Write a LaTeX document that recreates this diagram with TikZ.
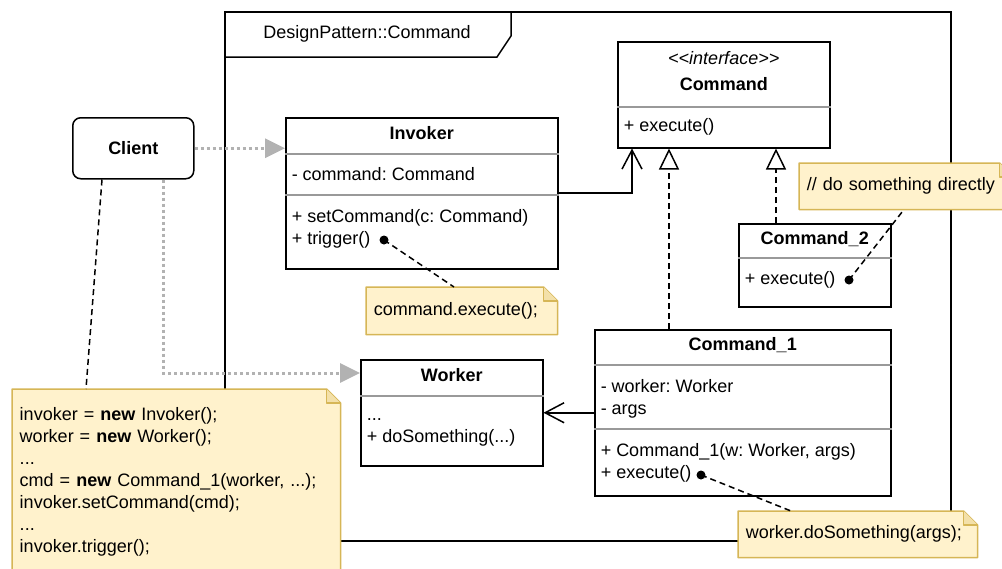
\documentclass[tikz,border=0pt]{standalone}
\usepackage{fontspec}
\setmainfont{Liberation Sans}
\usepackage{tikz}
\usetikzlibrary{
	positioning,
	arrows.meta
}
\definecolor{notefill}{HTML}{FFF2CC}
\definecolor{notedraw}{HTML}{D6B656}
\colorlet{foldfill}{notedraw!30!notefill}
\colorlet{sepgray}{black!40}
\colorlet{usegray}{black!30}
\tikzset{
	class/.style={
		draw, fill=white, anchor=north west, inner sep=0pt
	},
	clsname/.style={
		font=\bfseries, inner sep=0pt
	},
	members/.style={
		anchor=west, align=left, inner sep=0pt
	},
	separator/.style={
		draw=sepgray
	},
	usage/.style={
		usegray, line width=3pt, dash pattern=on 3pt off 3pt,
		-{Triangle[length=20pt,width=19pt,fill=usegray]}
	},
	assoc/.style={
		-{Straight Barb[length=19pt,width=20pt]}
	},
	realize/.style={
		dash pattern=on 6pt off 4pt,
		-{Triangle[open,length=21pt,width=20pt]}
	},
	notelink/.style={
		dash pattern=on 6pt off 4pt
	},
	note/.style={
		anchor=north west, align=left,
		inner xsep=7pt, inner ysep=0pt,
		append after command={\pgfextra{
			\draw[notedraw, fill=notefill, line join=round] (\tikzlastnode.north west) -- ([xshift=-14pt]\tikzlastnode.north east) -- ([yshift=-14pt]\tikzlastnode.north east) -- (\tikzlastnode.south east) -- (\tikzlastnode.south west) -- cycle;
			\draw[notedraw, fill=foldfill, line join=round] ([xshift=-14pt]\tikzlastnode.north east) -- ([xshift=-14pt,yshift=-14pt]\tikzlastnode.north east) -- ([yshift=-14pt]\tikzlastnode.north east);
		}}
	}
}

\begin{document}
\frenchspacing
\fontsize{18}{22}\selectfont
\begin{tikzpicture}[x=1pt, y=-1pt, line width=1.5pt]
	\useasboundingbox (0,0) rectangle (1002,568);
	\clip (0,0) rectangle (1002,568);

	\node[draw, anchor=north west, inner sep=0pt, minimum width=726pt, minimum height=529pt] (frame) at (224,11) {};
	\draw (frame.north west) ++(0,46) -- ++(273,0) -- ++(14,-21) -- ++(0,-25);
	\node (frametitle) at (367,34) {DesignPattern::Command};

	\node[class, font=\bfseries, rounded corners=8pt, minimum width=121pt, minimum height=61pt] (client) at (72,117) {Client};

	\node[class, minimum width=272pt, minimum height=151pt] (invoker) at (285,117) {};
	\node[clsname] (invokername) at ([yshift=-16pt]invoker.north) {Invoker};
	\draw[separator] ([yshift=-37pt]invoker.north west) -- ([yshift=-37pt]invoker.north east);
	\node[members] (invokerattr) at ([xshift=6pt,yshift=-57pt]invoker.north west) {- command: Command};
	\draw[separator] ([yshift=-78pt]invoker.north west) -- ([yshift=-78pt]invoker.north east);
	\node[members] (invokerops) at ([xshift=6pt,yshift=-112pt]invoker.north west) {+ setCommand(c: Command)\\+ trigger()};

	\node[class, minimum width=212pt, minimum height=106pt] (command) at (617,41) {};
	\node[inner sep=0pt, font=\itshape] (commandstereo) at ([yshift=-17pt]command.north) {<\kern0pt<interface>\kern0pt>};
	\node[clsname] (commandname) at ([yshift=-43pt]command.north) {Command};
	\draw[separator] ([yshift=-66pt]command.north west) -- ([yshift=-66pt]command.north east);
	\node[members] (commandops) at ([xshift=6pt,yshift=-86pt]command.north west) {+ execute()};

	\node[class, minimum width=152pt, minimum height=83pt] (cmdtwo) at (738,223) {};
	\node[clsname] (cmdtwoname) at ([yshift=-16pt]cmdtwo.north) {Command\_2};
	\draw[separator] ([yshift=-35pt]cmdtwo.north west) -- ([yshift=-35pt]cmdtwo.north east);
	\node[members] (cmdtwoops) at ([xshift=6pt,yshift=-57pt]cmdtwo.north west) {+ execute()};

	\node[class, minimum width=296pt, minimum height=166pt] (cmdone) at (594,329) {};
	\node[clsname] (cmdonename) at ([yshift=-16pt]cmdone.north) {Command\_1};
	\draw[separator] ([yshift=-36pt]cmdone.north west) -- ([yshift=-36pt]cmdone.north east);
	\node[members] (cmdoneattr) at ([xshift=6pt,yshift=-70pt]cmdone.north west) {- worker: Worker\\- args};
	\draw[separator] ([yshift=-100pt]cmdone.north west) -- ([yshift=-100pt]cmdone.north east);
	\node[members] (cmdoneops) at ([xshift=6pt,yshift=-134pt]cmdone.north west) {+ Command\_1(w: Worker, args)\\+ execute()};

	\node[class, minimum width=182pt, minimum height=106pt] (worker) at (360,359) {};
	\node[clsname] (workername) at ([yshift=-16pt]worker.north) {Worker};
	\draw[separator] ([yshift=-37pt]worker.north west) -- ([yshift=-37pt]worker.north east);
	\node[members] (workerops) at ([xshift=6pt,yshift=-73pt]worker.north west) {...\\+ doSomething(...)};

	\node[note, text width=176pt, minimum height=46pt] (triggernote) at (366,287) {command.execute();};
	\node[note, text width=199pt, minimum height=45pt] (directnote) at (799,163) {// do something directly};
	\node[note, text width=224pt, minimum height=45pt] (workernote) at (738,511) {worker.doSomething(args);};
	\node[note, text width=313pt, inner ysep=18pt] (clientnote) at (12,389) {invoker = \textbf{new} Invoker();\\
		worker = \textbf{new} Worker();\\
		...\\
		cmd = \textbf{new} Command\_1(worker, ...);\\
		invoker.setCommand(cmd);\\
		...\\
		invoker.trigger();};

	\coordinate (triggerdot) at (384,240);
	\coordinate (exetwodot) at (849,280);
	\coordinate (exeonedot) at (701,475);
	\fill (triggerdot) circle (4.5);
	\fill (exetwodot) circle (4.5);
	\fill (exeonedot) circle (4.5);

	\draw[usage] (client.east) -- (client.east -| invoker.west);
	\draw[usage] ([xshift=-31pt]client.south east) |- ([yshift=-14pt]worker.north west);
	\draw[notelink] ([xshift=30pt]client.south west) -- ([xshift=74pt]clientnote.north west);
	\coordinate (invokerout) at ([yshift=-76pt]invoker.north east);
	\draw[assoc] (invokerout) -| ([xshift=15pt]command.south west);
	\coordinate (cmdonetop) at ([xshift=75pt]cmdone.north west);
	\draw[realize] (cmdonetop) -- (cmdonetop |- command.south);
	\coordinate (cmdtwotop) at ([xshift=38pt]cmdtwo.north west);
	\draw[realize] (cmdtwotop) -- (cmdtwotop |- command.south);
	\draw[assoc] (cmdone.west) -- (worker.east);
	\draw[notelink] (triggerdot) -- ([xshift=88pt]triggernote.north west);
	\draw[notelink] (exetwodot) -- ([xshift=105pt]directnote.south west);
	\draw[notelink] (exeonedot) -- ([xshift=53pt]workernote.north west);
\end{tikzpicture}
\end{document}
